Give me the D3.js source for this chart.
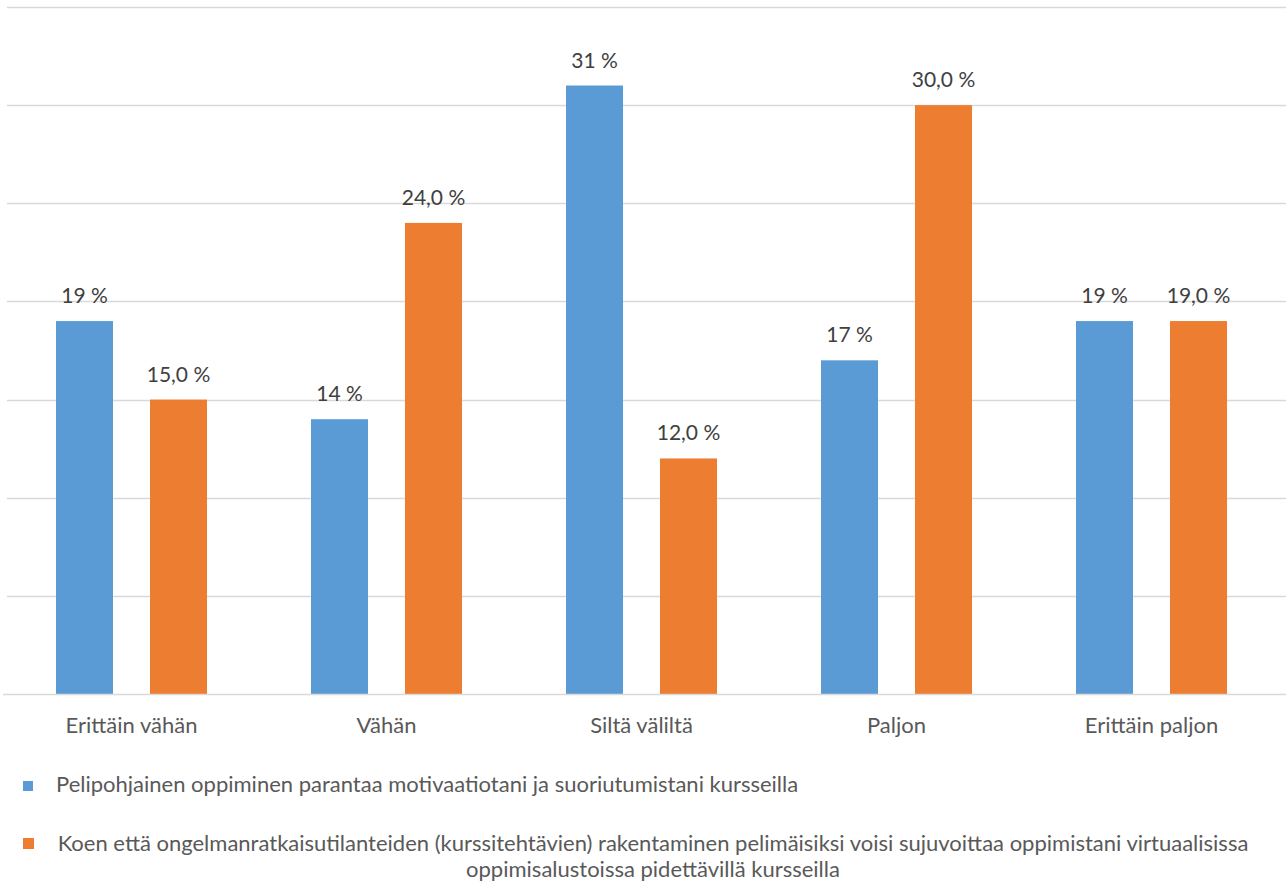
<!DOCTYPE html>
<html>
<head>
<meta charset="utf-8">
<script src="https://cdn.jsdelivr.net/npm/d3@7"></script>
<style>
  html, body { margin: 0; padding: 0; background: #ffffff; }
  svg { display: block; }
  text { font-family: Lato, "Open Sans", sans-serif; }
</style>
</head>
<body>
<svg id="chart" width="1286" height="883"></svg>
<script>
// Response categories along the x axis
const categories = ["Erittäin vähän", "Vähän", "Siltä väliltä", "Paljon", "Erittäin paljon"];

// Series names (legend entries)
const seriesNames = [
  "Pelipohjainen oppiminen parantaa motivaatiotani ja suoriutumistani kursseilla",
  "Koen että ongelmanratkaisutilanteiden (kurssitehtävien) rakentaminen pelimäisiksi voisi sujuvoittaa oppimistani virtuaalisissa oppimisalustoissa pidettävillä kursseilla"
];

// Percent values per series
const motivationValues = [19, 14, 31, 17, 19];
const problemSolvingValues = [15.0, 24.0, 12.0, 30.0, 19.0];

// Value axis gridline ticks (percent)
const yTicks = [0, 5, 10, 15, 20, 25, 30, 35];

const seriesColors = ["#5B9BD5", "#ED7D31"];
const seriesKeys = ["s0", "s1"];

const rows = categories.map((c, i) => ({
  category: c,
  s0: motivationValues[i],
  s1: problemSolvingValues[i]
}));

const svg = d3.select("#chart");

// Finnish number style: decimal comma
const fi = d3.formatLocale({ decimal: ",", thousands: " ", grouping: [3], currency: ["", " €"] });
const formats = [fi.format(".0f"), fi.format(".1f")];

const x0 = d3.scaleBand().domain(categories).range([4, 1279]).padding(0);
const x1 = d3.scaleBand().domain(seriesKeys)
  .range([52, x0.bandwidth() - 52])
  .paddingInner(0.3936);
const y = d3.scaleLinear().domain([0, 35]).range([694, 7]);

// Horizontal gridlines
svg.append("g")
  .selectAll("line")
  .data(yTicks.filter(t => t > 0))
  .join("line")
  .attr("x1", 7).attr("x2", 1286)
  .attr("y1", d => Math.round(y(d)) + 0.5)
  .attr("y2", d => Math.round(y(d)) + 0.5)
  .attr("stroke", "#d9d9d9")
  .attr("stroke-width", 1.5);

// Bars
const groups = svg.append("g")
  .selectAll("g")
  .data(rows)
  .join("g")
  .attr("transform", d => `translate(${x0(d.category)},0)`);

groups.selectAll("rect")
  .data(d => seriesKeys.map((k, i) => ({ key: k, i, value: d[k] })))
  .join("rect")
  .attr("x", d => x1(d.key))
  .attr("width", x1.bandwidth())
  .attr("y", d => y(d.value))
  .attr("height", d => y(0) - y(d.value))
  .attr("fill", d => seriesColors[d.i]);

// Data labels
groups.selectAll("text.value")
  .data(d => seriesKeys.map((k, i) => ({ key: k, i, value: d[k] })))
  .join("text")
  .attr("class", "value")
  .attr("x", d => x1(d.key) + x1.bandwidth() / 2)
  .attr("y", d => y(d.value) - 18)
  .attr("text-anchor", "middle")
  .attr("font-size", 21)
  .attr("fill", "#404040")
  .text(d => formats[d.i](d.value) + " %");

// Baseline (category axis)
svg.append("line")
  .attr("x1", 3).attr("x2", 1286)
  .attr("y1", y(0) + 0.5).attr("y2", y(0) + 0.5)
  .attr("stroke", "#d9d9d9")
  .attr("stroke-width", 1.5);

// Category labels
const xAxis = svg.append("g")
  .attr("transform", `translate(0,${y(0)})`)
  .call(d3.axisBottom(x0).tickSize(0).tickPadding(0));
xAxis.select(".domain").remove();
xAxis.selectAll("text")
  .attr("y", 39)
  .attr("dy", null)
  .attr("font-size", 22)
  .attr("font-family", "Lato, 'Open Sans', sans-serif")
  .attr("fill", "#595959");

// Legend
const legend = svg.append("g");
legend.append("rect")
  .attr("x", 23).attr("y", 781).attr("width", 10).attr("height", 10)
  .attr("fill", seriesColors[0]);
legend.append("text")
  .attr("x", 56).attr("y", 792)
  .attr("font-size", 22)
  .attr("fill", "#595959")
  .text(seriesNames[0]);

legend.append("rect")
  .attr("x", 23).attr("y", 838).attr("width", 11).attr("height", 11)
  .attr("fill", seriesColors[1]);
const splitAt = seriesNames[1].indexOf(" oppimisalustoissa");
const legendLines = [seriesNames[1].slice(0, splitAt), seriesNames[1].slice(splitAt + 1)];
legend.append("text")
  .attr("font-size", 22)
  .attr("fill", "#595959")
  .attr("text-anchor", "middle")
  .selectAll("tspan")
  .data(legendLines)
  .join("tspan")
  .attr("x", 653)
  .attr("y", (d, i) => 851 + i * 26)
  .text(d => d);
</script>
</body>
</html>
